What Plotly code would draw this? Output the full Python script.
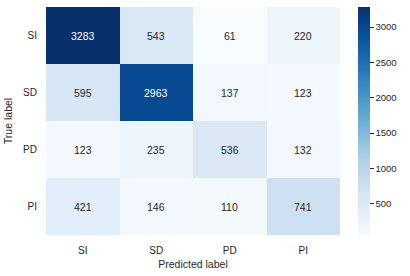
import plotly.graph_objects as go

labels = ["SI", "SD", "PD", "PI"]
matrix = [
    [3283, 543, 61, 220],
    [595, 2963, 137, 123],
    [123, 235, 536, 132],
    [421, 146, 110, 741],
]
cbar_ticks = [500, 1000, 1500, 2000, 2500, 3000]

blues = [
    [0.0, "#f7fbff"], [0.125, "#deebf7"], [0.25, "#c6dbef"], [0.375, "#9ecae1"],
    [0.5, "#6baed6"], [0.625, "#4292c6"], [0.75, "#2171b5"], [0.875, "#08519c"],
    [1.0, "#08306b"],
]

zmin = min(min(r) for r in matrix)
zmax = max(max(r) for r in matrix)

fig = go.Figure()
fig.add_trace(go.Heatmap(
    z=matrix, x=labels, y=labels, colorscale=blues, zmin=zmin, zmax=zmax,
    xgap=0, ygap=0, hoverinfo="skip",
    colorbar=dict(
        thickness=12, len=1, lenmode="fraction", y=0.5, yanchor="middle",
        x=1.061, xanchor="left", xpad=0, ypad=0, outlinewidth=0,
        tickvals=cbar_ticks, ticks="outside", ticklen=4, tickwidth=1,
        tickcolor="#262626", tickfont=dict(size=9.5, color="#262626"),
    ),
))

for i, row in enumerate(matrix):
    for j, v in enumerate(row):
        frac = (v - zmin) / (zmax - zmin)
        color = "white" if frac > 0.6 else "#262626"
        fig.add_annotation(x=labels[j], y=labels[i], text=str(v), showarrow=False,
                           font=dict(size=10.5, color=color))

fig.update_layout(
    width=410, height=276,
    margin=dict(l=46, r=70, t=7, b=41, autoexpand=False),
    paper_bgcolor="white", plot_bgcolor="white",
    font=dict(family="Liberation Sans, Arial, sans-serif", color="#262626", size=10),
    xaxis=dict(title=dict(text="Predicted label", font=dict(size=10.5), standoff=5),
               showgrid=False, zeroline=False, ticks="", tickfont=dict(size=10),
               ticklabelstandoff=8),
    yaxis=dict(title=dict(text="True label", font=dict(size=10.5), standoff=8),
               autorange="reversed", showgrid=False, zeroline=False, ticks="",
               tickfont=dict(size=10), ticklabelstandoff=8),
)

fig.write_html("out.html", config={"displayModeBar": False},
               post_script="document.body.style.margin='0';")
